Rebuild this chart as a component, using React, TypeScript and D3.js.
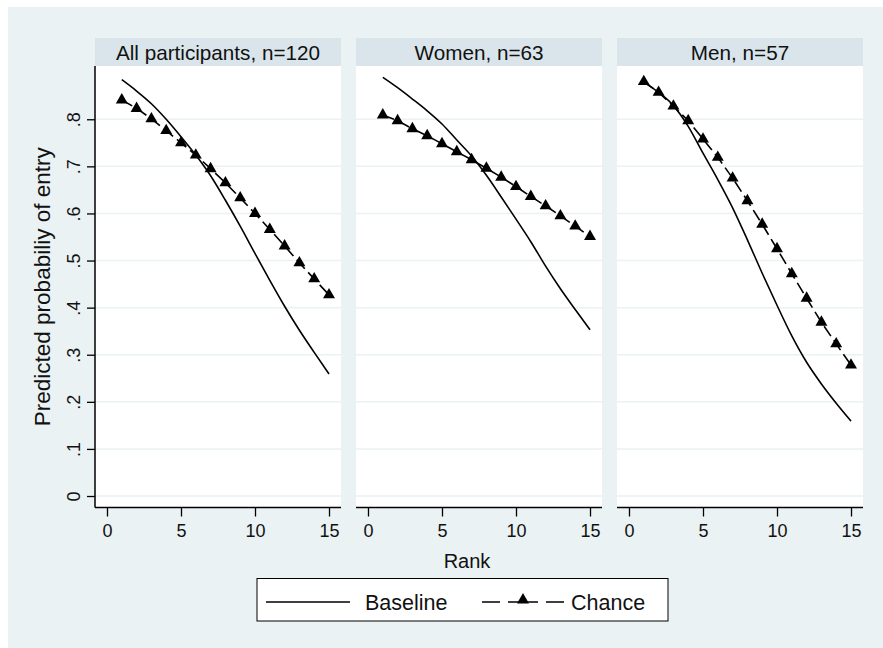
import React, { useRef, useEffect } from 'react';
import * as d3 from 'd3';

// Data
const ranks = [1, 2, 3, 4, 5, 6, 7, 8, 9, 10, 11, 12, 13, 14, 15];
const panelTitles = ['All participants, n=120', 'Women, n=63', 'Men, n=57'];

const baselineAll = [0.884, 0.860, 0.833, 0.800, 0.763, 0.724, 0.680, 0.628, 0.573, 0.515, 0.458, 0.403, 0.352, 0.305, 0.259];
const chanceAll = [0.841, 0.823, 0.801, 0.776, 0.750, 0.724, 0.695, 0.665, 0.633, 0.600, 0.566, 0.531, 0.495, 0.461, 0.427];

const baselineWomen = [0.889, 0.867, 0.843, 0.818, 0.790, 0.756, 0.722, 0.681, 0.635, 0.588, 0.540, 0.488, 0.440, 0.396, 0.353];
const chanceWomen = [0.809, 0.797, 0.780, 0.765, 0.748, 0.731, 0.714, 0.696, 0.677, 0.657, 0.636, 0.616, 0.595, 0.573, 0.551];

const baselineMen = [0.879, 0.857, 0.829, 0.785, 0.728, 0.672, 0.612, 0.544, 0.473, 0.405, 0.340, 0.284, 0.238, 0.197, 0.159];
const chanceMen = [0.880, 0.857, 0.828, 0.797, 0.758, 0.719, 0.675, 0.627, 0.577, 0.525, 0.472, 0.420, 0.369, 0.323, 0.278];

const xTicks = [0, 5, 10, 15];
const yTicks = [0, 0.1, 0.2, 0.3, 0.4, 0.5, 0.6, 0.7, 0.8];
const yTickLabels = ['0', '.1', '.2', '.3', '.4', '.5', '.6', '.7', '.8'];
const legendLabels = ['Baseline', 'Chance'];

const FONT = "'Liberation Sans', Arial, Helvetica, sans-serif";

export default function App() {
  const ref = useRef<SVGSVGElement>(null);

  useEffect(() => {
    const svg = d3.select(ref.current);
    svg.selectAll('*').remove();

    const width = 883;
    const height = 648;

    // graph region
    svg.append('rect')
      .attr('x', 8).attr('y', 7)
      .attr('width', width - 8).attr('height', height - 7)
      .attr('fill', '#eaf2f3');

    const panelW = 246;
    const gap = 15;
    const left0 = 95;
    const stripTop = 38;
    const plotTop = 66;
    const plotBottom = 507.5;

    const y = d3.scaleLinear().domain([-0.0244, 0.9131]).range([plotBottom, plotTop]);

    const series = [
      { baseline: baselineAll, chance: chanceAll },
      { baseline: baselineWomen, chance: chanceWomen },
      { baseline: baselineMen, chance: chanceMen }
    ];

    const tri = d3.symbol().type(d3.symbolTriangle).size(62);

    panelTitles.forEach((title, i) => {
      const px = left0 + i * (panelW + gap);
      const x = d3.scaleLinear().domain([-0.81, 15.81]).range([px, px + panelW]);

      // strip
      svg.append('rect')
        .attr('x', px).attr('y', stripTop)
        .attr('width', panelW).attr('height', plotTop - stripTop)
        .attr('fill', '#d9e5eb');
      svg.append('text')
        .attr('x', px + panelW / 2).attr('y', 59.5)
        .attr('text-anchor', 'middle')
        .attr('font-family', FONT).attr('font-size', 20.7)
        .attr('fill', '#111')
        .text(title);

      // plot region
      svg.append('rect')
        .attr('x', px).attr('y', plotTop)
        .attr('width', panelW).attr('height', plotBottom - plotTop)
        .attr('fill', '#fff');

      // grid
      svg.append('g')
        .selectAll('line')
        .data(yTicks)
        .join('line')
          .attr('x1', px).attr('x2', px + panelW)
          .attr('y1', d => y(d)).attr('y2', d => y(d))
          .attr('stroke', '#eaf2f3')
          .attr('stroke-width', 1.5);

      const pts = (vals: number[]) => ranks.map((r, k) => [x(r), y(vals[k])] as [number, number]);

      // Baseline
      svg.append('path')
        .attr('d', d3.line().curve(d3.curveMonotoneX)(pts(series[i].baseline)))
        .attr('fill', 'none')
        .attr('stroke', '#000')
        .attr('stroke-width', 1.6);

      // Chance
      svg.append('path')
        .attr('d', d3.line()(pts(series[i].chance)))
        .attr('fill', 'none')
        .attr('stroke', '#000')
        .attr('stroke-width', 1.6)
        .attr('stroke-dasharray', '12 5');

      svg.append('g')
        .selectAll('path')
        .data(pts(series[i].chance))
        .join('path')
          .attr('transform', d => `translate(${d[0]},${d[1]})`)
          .attr('d', tri)
          .attr('fill', '#000');

      // x axis
      const xa = svg.append('g')
        .attr('transform', `translate(0,${plotBottom})`)
        .call(d3.axisBottom(x).tickValues(xTicks).tickSize(9).tickSizeOuter(0).tickFormat(d3.format('d')));
      xa.select('.domain').attr('stroke', '#000').attr('stroke-width', 1.5)
        .attr('d', `M${px},0H${px + panelW}`);
      xa.selectAll('.tick line').attr('stroke', '#000').attr('stroke-width', 1.3);
      xa.selectAll('.tick text')
        .attr('font-family', FONT).attr('font-size', 18)
        .attr('fill', '#111').attr('dy', null).attr('y', 29.5);
    });

    // y axis on the first panel
    const ya = svg.append('g')
      .attr('transform', `translate(${left0},0)`)
      .call(d3.axisLeft(y).tickValues(yTicks).tickSize(8).tickSizeOuter(0)
        .tickFormat((d, k) => yTickLabels[k]));
    ya.select('.domain').attr('stroke', '#000').attr('stroke-width', 1.5)
      .attr('d', `M0,${plotTop}V${plotBottom}`);
    ya.selectAll('.tick line').attr('stroke', '#000').attr('stroke-width', 1.3);
    ya.selectAll('.tick text')
      .attr('font-family', FONT).attr('font-size', 18).attr('fill', '#111')
      .attr('x', null).attr('dy', null)
      .attr('text-anchor', 'middle')
      .attr('transform', 'translate(-15,0) rotate(-90)');

    // axis titles
    svg.append('text')
      .attr('transform', `translate(49.5,${(plotTop + plotBottom) / 2}) rotate(-90)`)
      .attr('text-anchor', 'middle')
      .attr('font-family', FONT).attr('font-size', 22.5).attr('fill', '#111')
      .text('Predicted probabiliy of entry');

    svg.append('text')
      .attr('x', 467).attr('y', 568)
      .attr('text-anchor', 'middle')
      .attr('font-family', FONT).attr('font-size', 20).attr('fill', '#111')
      .text('Rank');

    // legend
    const lg = svg.append('g');
    lg.append('rect')
      .attr('x', 257).attr('y', 578.5)
      .attr('width', 411).attr('height', 42.5)
      .attr('fill', '#fff').attr('stroke', '#000').attr('stroke-width', 1);
    lg.append('line')
      .attr('x1', 266).attr('x2', 350).attr('y1', 602).attr('y2', 602)
      .attr('stroke', '#000').attr('stroke-width', 1.6);
    lg.append('text')
      .attr('x', 365).attr('y', 609.5)
      .attr('font-family', FONT).attr('font-size', 21.5).attr('fill', '#111')
      .text(legendLabels[0]);
    lg.append('line')
      .attr('x1', 482).attr('x2', 564).attr('y1', 602).attr('y2', 602)
      .attr('stroke', '#000').attr('stroke-width', 1.6)
      .attr('stroke-dasharray', '18 8 30 8 18');
    lg.append('path')
      .attr('transform', 'translate(523,600)')
      .attr('d', tri)
      .attr('fill', '#000');
    lg.append('text')
      .attr('x', 571).attr('y', 609.5)
      .attr('font-family', FONT).attr('font-size', 21.5).attr('fill', '#111')
      .text(legendLabels[1]);
  }, []);

  return (
    <svg
      ref={ref}
      width={883}
      height={648}
      style={{ position: 'absolute', left: 0, top: 0, display: 'block' }}
    />
  );
}
